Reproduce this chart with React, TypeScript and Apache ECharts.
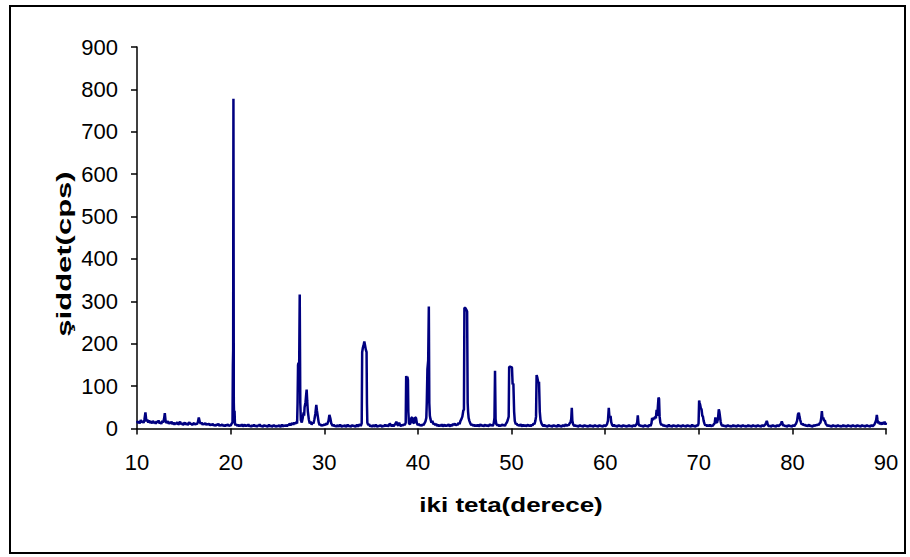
import React, { useEffect, useRef } from "react";
import * as echarts from "echarts";

// 2θ (degrees) vs intensity (cps)
const scan10to20: [number, number][] = [
  [10.0,18],[10.1,13],[10.2,16],[10.3,12],[10.4,20],[10.5,15],[10.6,17],[10.7,13],[10.8,22],[10.9,38],
  [11.0,17],[11.1,21],[11.2,14],[11.3,19],[11.4,13],[11.5,17],[11.6,12],[11.7,18],[11.8,13],[11.9,16],
  [12.0,11],[12.1,17],[12.2,14],[12.3,19],[12.4,12],[12.5,15],[12.6,11],[12.7,18],[12.8,14],[12.9,24],
  [12.97,36],[13.05,18],[13.15,13],[13.3,17],[13.4,11],[13.5,15],[13.6,12],[13.7,16],[13.8,10],[13.9,14],
  [14.0,9],[14.1,13],[14.2,11],[14.3,15],[14.4,9],[14.5,12],[14.6,16],[14.7,10],[14.8,13],[14.9,8],
  [15.0,12],[15.1,14],[15.2,9],[15.3,13],[15.4,8],[15.5,12],[15.6,15],[15.7,10],[15.8,12],[15.9,8],
  [16.0,11],[16.1,13],[16.2,9],[16.3,12],[16.4,10],[16.5,15],[16.6,26],[16.7,16],[16.8,11],[16.9,14],
  [17.0,9],[17.1,12],[17.2,10],[17.3,13],[17.4,8],[17.5,11],[17.6,9],[17.7,12],[17.8,7],[17.9,10],
  [18.0,8],[18.1,11],[18.2,7],[18.3,9],[18.4,6],[18.5,10],[18.6,8],[18.7,11],[18.8,6],[18.9,9],
  [19.0,7],[19.1,10],[19.2,6],[19.3,8],[19.4,5],[19.5,9],[19.6,7],[19.7,10],[19.8,6],[19.9,8],
  [20.0,7],[20.1,11],[20.2,14],[20.24,150],[20.27,185],[20.3,778],[20.34,60],[20.38,20],[20.42,42],[20.46,12],
];

const scan20to30: [number, number][] = [
  [20.5,8],[20.6,10],[20.7,6],[20.8,9],[20.9,5],[21.0,8],[21.1,6],[21.2,10],[21.3,5],[21.4,7],
  [21.5,9],[21.6,5],[21.7,8],[21.8,6],[21.9,10],[22.0,5],[22.1,7],[22.2,4],[22.3,8],[22.4,6],
  [22.5,9],[22.6,5],[22.7,7],[22.8,4],[22.9,8],[23.0,6],[23.1,10],[23.2,5],[23.3,7],[23.4,4],
  [23.5,6],[23.6,8],[23.7,5],[23.8,7],[23.9,4],[24.0,6],[24.1,9],[24.2,5],[24.3,7],[24.4,4],
  [24.5,6],[24.6,8],[24.7,5],[24.8,6],[24.9,4],[25.0,7],[25.1,5],[25.2,8],[25.3,4],[25.4,6],
  [25.5,9],[25.6,5],[25.7,7],[25.8,6],[25.9,8],[26.0,5],[26.1,9],[26.2,7],[26.3,12],[26.4,8],
  [26.5,10],[26.6,13],[26.7,9],[26.8,14],[26.9,11],[27.0,15],[27.1,12],[27.15,60],[27.2,150],[27.25,155],
  [27.3,90],[27.38,316],[27.44,60],[27.5,20],[27.6,14],[27.7,25],[27.8,38],[27.85,30],[27.9,50],[28.0,62],
  [28.05,75],[28.12,92],[28.18,65],[28.25,40],[28.35,22],[28.45,12],[28.55,16],[28.65,9],[28.75,14],[28.85,12],
  [28.95,22],[29.05,35],[29.15,56],[29.22,42],[29.3,30],[29.4,15],[29.5,8],[29.6,10],[29.7,6],[29.8,9],
  [29.9,7],[30.0,10],[30.1,8],[30.2,12],[30.3,9],[30.45,18],[30.55,32],[30.65,24],[30.75,12],[30.85,8],
];

const scan30to42: [number, number][] = [
  [30.9,6],[31.0,9],[31.1,5],[31.2,7],[31.3,4],[31.4,8],[31.5,6],[31.6,5],[31.7,9],[31.8,6],
  [31.9,4],[32.0,7],[32.1,5],[32.2,8],[32.3,4],[32.4,6],[32.5,9],[32.6,5],[32.7,7],[32.8,4],
  [32.9,6],[33.0,8],[33.1,5],[33.2,7],[33.3,4],[33.4,6],[33.5,9],[33.6,5],[33.7,7],[33.8,10],
  [33.9,6],[34.0,12],[34.05,180],[34.12,190],[34.2,196],[34.28,205],[34.36,196],[34.44,186],[34.52,180],[34.56,60],
  [34.6,14],[34.7,8],[34.8,10],[34.9,5],[35.0,7],[35.1,4],[35.2,8],[35.3,6],[35.4,5],[35.5,9],
  [35.6,6],[35.7,4],[35.8,7],[35.9,5],[36.0,8],[36.1,6],[36.2,4],[36.3,7],[36.4,5],[36.5,9],
  [36.6,6],[36.7,8],[36.8,5],[36.9,7],[37.0,12],[37.1,8],[37.2,6],[37.3,9],[37.4,5],[37.5,8],
  [37.6,11],[37.7,16],[37.8,9],[37.9,7],[38.0,14],[38.1,8],[38.2,6],[38.3,9],[38.4,7],[38.5,10],
  [38.6,8],[38.7,14],[38.75,124],[38.82,118],[38.88,122],[38.94,114],[38.98,40],[39.05,12],[39.15,10],[39.25,15],
  [39.3,25],[39.4,26],[39.5,14],[39.6,12],[39.7,26],[39.8,25],[39.9,12],[40.0,8],[40.1,11],[40.2,7],
  [40.3,9],[40.4,6],[40.5,10],[40.6,8],[40.7,12],[40.8,16],[40.9,25],[40.95,60],[41.02,140],[41.1,160],
  [41.17,288],[41.22,60],[41.28,30],[41.35,22],[41.45,14],[41.55,18],[41.65,10],[41.75,12],
];

const scan42to53: [number, number][] = [
  [41.85,8],[41.95,11],[42.05,6],[42.15,9],[42.25,5],[42.35,8],[42.45,6],[42.55,10],[42.65,5],[42.75,7],
  [42.85,9],[42.95,5],[43.05,8],[43.15,6],[43.25,10],[43.35,7],[43.45,5],[43.55,9],[43.65,6],[43.75,11],
  [43.85,8],[43.95,12],[44.05,7],[44.15,10],[44.25,8],[44.35,14],[44.45,10],[44.55,18],[44.65,22],[44.75,28],
  [44.85,42],[44.92,45],[44.97,285],[45.08,284],[45.18,280],[45.26,276],[45.32,60],[45.36,40],[45.42,25],[45.5,18],
  [45.6,12],[45.7,8],[45.8,10],[45.9,6],[46.0,9],[46.1,5],[46.2,8],[46.3,6],[46.4,9],[46.5,5],
  [46.6,7],[46.7,10],[46.8,6],[46.9,8],[47.0,5],[47.1,7],[47.2,9],[47.3,6],[47.4,8],[47.5,5],
  [47.6,7],[47.7,10],[47.8,7],[47.9,9],[48.0,6],[48.1,12],[48.18,25],[48.24,136],[48.3,22],[48.38,10],
  [48.5,7],[48.6,9],[48.7,5],[48.8,8],[48.9,6],[49.0,10],[49.1,7],[49.2,9],[49.3,6],[49.4,11],
  [49.5,14],[49.6,20],[49.7,28],[49.75,145],[49.85,146],[49.95,145],[50.05,144],[50.12,104],[50.2,106],[50.28,40],
  [50.35,18],[50.45,10],[50.55,12],[50.65,7],[50.75,9],[50.85,6],[50.95,10],[51.05,7],[51.15,5],[51.25,9],
  [51.35,6],[51.45,8],[51.55,5],[51.65,7],[51.75,9],[51.85,6],[51.95,8],[52.05,5],[52.15,9],[52.25,7],
  [52.35,12],[52.45,10],[52.55,18],[52.62,28],[52.68,126],[52.76,120],[52.86,108],[52.94,110],[53.02,40],[53.1,20],
  [53.2,12],[53.3,8],[53.4,6],
];

const scan53to71: [number, number][] = [
  [53.5,9],[53.6,5],[53.7,7],[53.8,4],[53.9,6],[54.0,8],[54.1,5],[54.2,7],[54.3,4],[54.4,6],
  [54.5,8],[54.6,5],[54.7,7],[54.8,4],[54.9,6],[55.0,9],[55.1,5],[55.2,7],[55.3,4],[55.4,6],
  [55.5,8],[55.6,5],[55.7,7],[55.8,10],[55.9,6],[56.0,9],[56.1,7],[56.2,12],[56.3,15],[56.38,22],
  [56.44,49],[56.5,18],[56.58,10],[56.7,6],[56.8,8],[56.9,5],[57.0,7],[57.1,4],[57.2,6],[57.3,8],
  [57.4,5],[57.5,7],[57.6,4],[57.7,6],[57.8,8],[57.9,5],[58.0,7],[58.1,4],[58.2,6],[58.3,5],
  [58.4,8],[58.5,5],[58.6,7],[58.7,4],[58.8,6],[58.9,8],[59.0,5],[59.1,7],[59.2,4],[59.3,6],
  [59.4,8],[59.5,5],[59.6,7],[59.7,4],[59.8,6],[59.9,8],[60.0,5],[60.1,7],[60.2,10],[60.3,18],
  [60.39,49],[60.45,30],[60.52,26],[60.58,30],[60.65,15],[60.75,8],[60.85,6],[60.95,9],[61.05,5],[61.15,7],
  [61.25,4],[61.35,6],[61.45,8],[61.55,5],[61.65,7],[61.75,4],[61.85,6],[61.95,8],[62.05,5],[62.15,7],
  [62.25,4],[62.35,6],[62.45,5],[62.55,8],[62.65,5],[62.75,7],[62.85,4],[62.95,6],[63.05,8],[63.15,5],
  [63.25,7],[63.35,10],[63.42,14],[63.49,31],[63.56,12],[63.65,6],[63.75,8],[63.85,5],[63.95,7],[64.05,4],
  [64.15,6],[64.25,8],[64.35,5],[64.45,7],[64.55,4],[64.65,6],[64.75,9],[64.85,6],[64.95,12],[65.02,25],
  [65.1,20],[65.18,26],[65.26,22],[65.34,28],[65.42,24],[65.5,44],[65.57,30],[65.63,50],[65.7,73],[65.76,70],
  [65.82,28],[65.9,14],[66.0,8],[66.1,10],[66.2,6],[66.3,8],[66.4,5],[66.5,7],[66.6,4],[66.7,6],
  [66.8,9],[66.9,5],[67.0,7],[67.1,4],[67.2,6],[67.3,8],[67.4,5],[67.5,7],[67.6,4],[67.7,6],
  [67.8,8],[67.9,5],[68.0,7],[68.1,4],[68.2,6],[68.3,8],[68.4,5],[68.5,7],[68.6,4],[68.7,6],
  [68.8,8],[68.9,5],[69.0,7],[69.1,4],[69.2,6],[69.3,9],[69.4,5],[69.5,7],[69.6,4],[69.7,6],
  [69.8,8],[69.9,6],[69.98,12],[70.04,66],[70.1,60],[70.16,55],[70.22,48],[70.3,45],[70.38,30],[70.45,28],
  [70.52,18],[70.6,12],[70.7,7],[70.8,9],
];

const scan71to90: [number, number][] = [
  [70.9,5],[71.0,8],[71.1,6],[71.2,9],[71.3,5],[71.4,7],[71.5,6],[71.6,10],[71.7,12],[71.78,26],
  [71.85,15],[71.95,14],[72.05,22],[72.14,45],[72.2,40],[72.26,30],[72.34,16],[72.42,9],[72.5,6],[72.6,8],
  [72.7,5],[72.8,7],[72.9,4],[73.0,6],[73.1,8],[73.2,5],[73.3,7],[73.4,4],[73.5,6],[73.6,5],
  [73.7,8],[73.8,5],[73.9,7],[74.0,4],[74.1,6],[74.2,8],[74.3,5],[74.4,7],[74.5,4],[74.6,6],
  [74.7,8],[74.8,5],[74.9,7],[75.0,4],[75.1,6],[75.2,5],[75.3,8],[75.4,5],[75.5,7],[75.6,4],
  [75.7,6],[75.8,8],[75.9,5],[76.0,7],[76.1,4],[76.2,6],[76.3,8],[76.4,5],[76.5,7],[76.6,4],
  [76.7,6],[76.8,8],[76.9,5],[77.0,7],[77.1,9],[77.2,14],[77.27,18],[77.34,12],[77.42,7],[77.5,5],
  [77.6,7],[77.7,4],[77.8,6],[77.9,8],[78.0,5],[78.1,7],[78.2,4],[78.3,6],[78.4,8],[78.5,5],
  [78.6,7],[78.7,9],[78.8,12],[78.87,17],[78.94,12],[79.02,6],[79.1,8],[79.2,5],[79.3,7],[79.4,4],
  [79.5,6],[79.6,8],[79.7,5],[79.8,7],[79.9,4],[80.0,6],[80.1,8],[80.2,5],[80.3,9],[80.4,12],
  [80.5,18],[80.6,34],[80.69,37],[80.76,28],[80.84,20],[80.92,14],[81.0,9],[81.1,12],[81.2,7],[81.3,10],
  [81.4,6],[81.5,8],[81.6,5],[81.7,7],[81.8,9],[81.9,5],[82.0,7],[82.1,4],[82.2,6],[82.3,8],
  [82.4,6],[82.5,9],[82.6,7],[82.7,10],[82.8,8],[82.9,12],[83.0,14],[83.08,24],[83.15,41],[83.22,22],
  [83.3,26],[83.38,18],[83.46,20],[83.55,12],[83.65,9],[83.75,6],[83.85,8],[83.95,5],[84.05,7],[84.15,4],
  [84.25,6],[84.35,8],[84.45,5],[84.55,7],[84.65,4],[84.75,6],[84.85,8],[84.95,5],[85.05,7],[85.15,4],
  [85.25,6],[85.35,5],[85.45,8],[85.55,5],[85.65,7],[85.75,4],[85.85,6],[85.95,8],[86.05,5],[86.15,7],
  [86.25,4],[86.35,6],[86.45,8],[86.55,5],[86.65,7],[86.75,4],[86.85,6],[86.95,8],[87.05,5],[87.15,7],
  [87.25,4],[87.35,6],[87.45,8],[87.55,5],[87.65,7],[87.75,4],[87.85,6],[87.95,8],[88.05,5],[88.15,7],
  [88.25,4],[88.35,6],[88.45,8],[88.55,5],[88.65,7],[88.75,9],[88.85,14],[88.95,20],[89.02,32],[89.08,22],
  [89.15,12],[89.25,16],[89.35,10],[89.45,14],[89.55,9],[89.65,15],[89.75,10],[89.85,16],[89.95,9],[90.0,14],
];

const xTitle = "iki teta(derece)";
const yTitle = "şiddet(cps)";

const FONT = "'Liberation Sans', Arial, Helvetica, sans-serif";

export default function App() {
  const ref = useRef<HTMLDivElement>(null);

  useEffect(() => {
    if (!ref.current) return;
    const chart = echarts.init(ref.current, undefined, { renderer: "svg" });
    const data = [
      ...scan10to20,
      ...scan20to30,
      ...scan30to42,
      ...scan42to53,
      ...scan53to71,
      ...scan71to90,
    ];
    chart.setOption({
      animation: false,
      backgroundColor: "#ffffff",
      grid: { left: 137, right: 24, top: 47, bottom: 128.5, containLabel: false },
      xAxis: {
        type: "value",
        min: 10,
        max: 90,
        interval: 10,
        splitLine: { show: false },
        axisLine: { show: true, onZero: false, lineStyle: { color: "#000", width: 1.5 } },
        axisTick: { show: true, length: 6, lineStyle: { color: "#000", width: 1.5 } },
        axisLabel: { color: "#000", fontSize: 22, fontFamily: FONT, margin: 23 },
      },
      yAxis: {
        type: "value",
        min: 0,
        max: 900,
        interval: 100,
        splitLine: { show: false },
        axisLine: { show: true, lineStyle: { color: "#000", width: 1.5 } },
        axisTick: { show: true, length: 6, lineStyle: { color: "#000", width: 1.5 } },
        axisLabel: { color: "#000", fontSize: 22, fontFamily: FONT, margin: 19 },
      },
      series: [
        {
          type: "line",
          data,
          showSymbol: false,
          symbol: "none",
          lineStyle: { color: "#000080", width: 2.5 },
          z: 3,
        },
      ],
      graphic: [
        {
          type: "rect",
          shape: { x: 10, y: 6, width: 895, height: 547 },
          style: { fill: "none", stroke: "#000", lineWidth: 2 },
          silent: true,
        },
        {
          type: "text",
          x: 511,
          y: 505,
          scaleX: 1.3,
          style: {
            text: xTitle,
            fontSize: 20,
            fontWeight: "bold",
            fontFamily: FONT,
            fill: "#000",
            textAlign: "center",
            textVerticalAlign: "middle",
          },
        },
        {
          type: "text",
          x: 64,
          y: 254,
          rotation: Math.PI / 2,
          scaleX: 1.55,
          style: {
            text: yTitle,
            fontSize: 20,
            fontWeight: "bold",
            fontFamily: FONT,
            fill: "#000",
            textAlign: "center",
            textVerticalAlign: "middle",
          },
        },
      ],
    });
    return () => chart.dispose();
  }, []);

  return (
    <div
      ref={ref}
      style={{ position: "fixed", left: 0, top: 0, width: 910, height: 557, background: "#fff" }}
    />
  );
}
